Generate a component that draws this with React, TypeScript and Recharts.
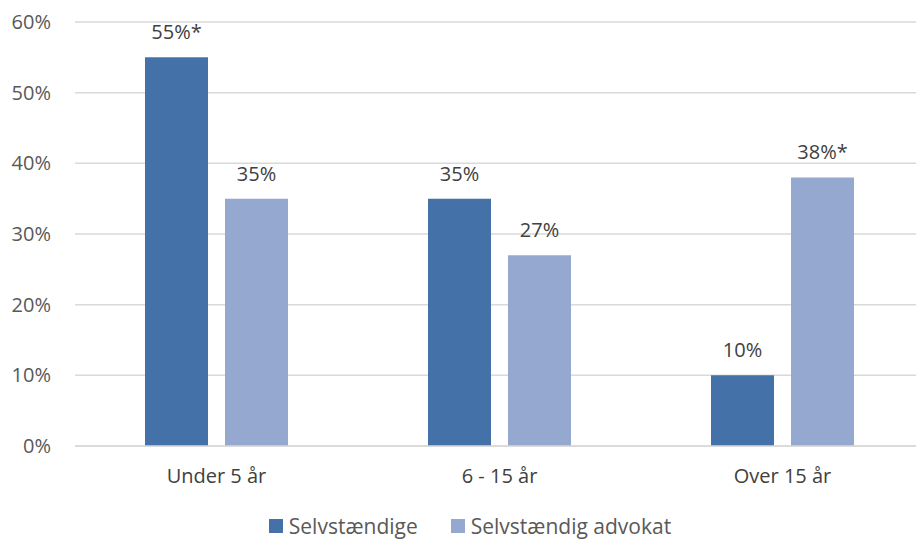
import React from 'react';
import { BarChart, Bar, XAxis, YAxis, CartesianGrid, Legend, LabelList } from 'recharts';

const categories = ['Under 5 år', '6 - 15 år', 'Over 15 år'];
const selvstaendige = [55, 35, 10];
const advokat = [35, 27, 38];
// significance marks shown after the percentage label
const selvStar = [true, false, false];
const advokatStar = [false, false, true];
const yTicks = [0, 10, 20, 30, 40, 50, 60];

const DARK = '#4472a8';
const LIGHT = '#95a9d0';
const FONT = '"Open Sans", sans-serif';

const data = categories.map((name, i) => ({
  name,
  selv: selvstaendige[i],
  adv: advokat[i],
}));

const legendItems = [
  { label: 'Selvstændige', color: DARK },
  { label: 'Selvstændig advokat', color: LIGHT },
];

function ChartLegend() {
  return (
    <div style={{ display: 'flex', justifyContent: 'center', gap: 33, marginTop: 16, marginLeft: 16, fontFamily: FONT, fontSize: 21, color: '#595959', lineHeight: '28px' }}>
      {legendItems.map((item) => (
        <div key={item.label} style={{ display: 'flex', alignItems: 'center', gap: 6 }}>
          <span style={{ width: 14, height: 14, background: item.color, display: 'inline-block' }} />
          <span>{item.label}</span>
        </div>
      ))}
    </div>
  );
}

const makeLabel = (stars: boolean[]) => (p: any) => {
  const star = stars[p.index] ? '*' : '';
  return (
    <text x={p.x + p.width / 2} y={p.y - 18} textAnchor="middle" fill="#404040" fontSize={20} fontFamily={FONT}>
      {`${p.value}%${star}`}
    </text>
  );
};

export default function App() {
  return (
    <div style={{ position: 'absolute', left: 0, top: 0, width: 916, height: 540, overflow: 'hidden', background: '#fff' }}>
      <BarChart
        width={924}
        height={540}
        data={data}
        margin={{ top: 22, right: 0, bottom: 0, left: 0 }}
        barGap={17}
        barSize={63}
      >
        <CartesianGrid vertical={false} stroke="#d9d9d9" strokeWidth={1.5} />
        <XAxis
          dataKey="name"
          height={50}
          tickLine={false}
          tickSize={0}
          tickMargin={23}
          axisLine={{ stroke: '#d9d9d9', strokeWidth: 1.5 }}
          tick={{ fill: '#404040', fontSize: 20, fontFamily: FONT }}
        />
        <YAxis
          width={75}
          domain={[0, 60]}
          ticks={yTicks}
          interval={0}
          axisLine={false}
          tickLine={false}
          tickSize={0}
          tickMargin={24}
          tickFormatter={(v: number) => `${v}%`}
          tick={{ fill: '#595959', fontSize: 20, fontFamily: FONT }}
        />
        <Legend verticalAlign="bottom" height={44} content={<ChartLegend />} />
        <Bar dataKey="selv" fill={DARK} isAnimationActive={false}>
          <LabelList dataKey="selv" content={makeLabel(selvStar)} />
        </Bar>
        <Bar dataKey="adv" fill={LIGHT} isAnimationActive={false}>
          <LabelList dataKey="adv" content={makeLabel(advokatStar)} />
        </Bar>
      </BarChart>
    </div>
  );
}
